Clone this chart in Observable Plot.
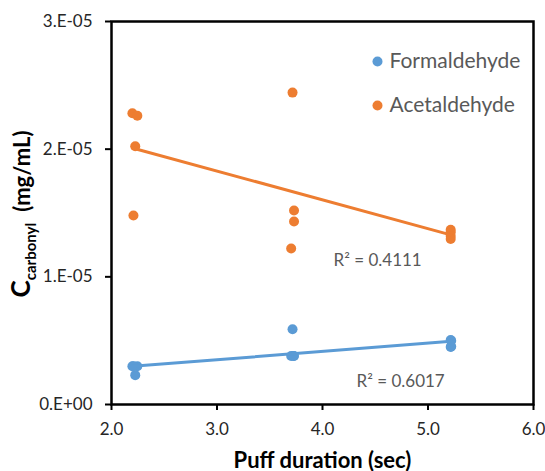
<!DOCTYPE html>
<html><head><meta charset="utf-8">
<script src="https://cdn.jsdelivr.net/npm/d3@7"></script>
<script src="https://cdn.jsdelivr.net/npm/@observablehq/plot@0.6"></script>
<style>
body{margin:0;background:#fff}
#chart{width:545px;height:471px}
</style>
</head><body><div id="chart"></div>
<script>
// Series names and colours
const series = ["Formaldehyde", "Acetaldehyde"];
const colors = ["#5B9BD5", "#ED7D31"];

// Formaldehyde: puff duration (sec) and concentration (mg/mL)
const formX = [2.198, 2.245, 2.225, 2.208, 3.716, 3.703, 3.73, 3.725, 5.215, 5.22, 5.215, 5.22];
const formY = [3.0e-6, 3.0e-6, 2.3e-6, 3.0e-6, 5.9e-6, 3.8e-6, 3.8e-6, 3.8e-6, 5.05e-6, 5.0e-6, 4.5e-6, 4.55e-6];

// Acetaldehyde
const acetX = [2.198, 2.245, 2.225, 2.208, 3.716, 3.73, 3.73, 3.703, 5.215, 5.215, 5.215, 5.215];
const acetY = [2.281e-5, 2.262e-5, 2.023e-5, 1.48e-5, 2.443e-5, 1.519e-5, 1.433e-5, 1.222e-5, 1.368e-5, 1.35e-5, 1.32e-5, 1.297e-5];

// Axis ticks and labels
const xTicks = [2, 3, 4, 5, 6];
const xTickLabels = ["2.0", "3.0", "4.0", "5.0", "6.0"];
const yTicks = [0, 1e-5, 2e-5, 3e-5];
const yTickLabels = ["0.E+00", "1.E-05", "2.E-05", "3.E-05"];

const xTitle = "Puff duration (sec)";
const r2Labels = ["R² = 0.6017", "R² = 0.4111"];

const data = [
  ...formX.map((x, i) => ({x, y: formY[i], s: series[0]})),
  ...acetX.map((x, i) => ({x, y: acetY[i], s: series[1]}))
];

const font = "Lato, 'Open Sans', sans-serif";
const textGray = "#595959";
const tickGray = "#262626";

const plot = Plot.plot({
  width: 545, height: 471,
  marginLeft: 111, marginRight: 12, marginTop: 21, marginBottom: 67,
  style: {fontFamily: font, background: "white", overflow: "visible"},
  x: {domain: [2, 6]},
  y: {domain: [0, 3e-5]},
  color: {domain: series, range: colors},
  marks: [
    Plot.dot(data, {x: "x", y: "y", fill: "s", r: 5}),
    Plot.linearRegressionY(data, {x: "x", y: "y", stroke: "s", ci: 0, strokeWidth: 3}),
    Plot.axisX({ticks: xTicks, tickFormat: () => "", tickSize: 6, stroke: "#000", strokeWidth: 2, label: null}),
    Plot.axisY({ticks: yTicks, tickFormat: () => "", tickSize: 6, stroke: "#000", strokeWidth: 2, label: null}),
    // tick labels
    Plot.text(xTicks, {x: d => d, text: (d, i) => xTickLabels[i], frameAnchor: "bottom", dy: 25, lineAnchor: "middle", fontSize: 17, fill: tickGray}),
    Plot.text(yTicks, {y: d => d, text: (d, i) => yTickLabels[i], frameAnchor: "left", dx: -19, textAnchor: "end", lineAnchor: "middle", fontSize: 17, fill: tickGray}),
    Plot.frame({stroke: "#000", strokeWidth: 2.5}),
    // legend
    ...series.flatMap((s, i) => [
      Plot.dot([s], {frameAnchor: "top-right", dx: -156, dy: 40 + 44 * i, fill: colors[i], r: 5}),
      Plot.text([s], {text: d => d, frameAnchor: "top-right", dx: -144, dy: 40 + 44 * i, textAnchor: "start", lineAnchor: "middle", fontSize: 21, fill: textGray})
    ]),
    // R² annotations
    Plot.text([r2Labels[1]], {text: d => d, frameAnchor: "top-left", dx: 222, dy: 239, textAnchor: "start", lineAnchor: "middle", fontSize: 17, fill: textGray}),
    Plot.text([r2Labels[0]], {text: d => d, frameAnchor: "top-left", dx: 245, dy: 360, textAnchor: "start", lineAnchor: "middle", fontSize: 17, fill: textGray}),
    // x title
    Plot.text([xTitle], {text: d => d, frameAnchor: "bottom", dy: 56, lineAnchor: "middle", fontSize: 22, fontWeight: "bold", fill: "#000"})
  ]
});

// y title with subscript
const svg = d3.select(plot);
const t = svg.append("text")
  .attr("transform", "translate(30,214) rotate(-90)")
  .attr("text-anchor", "middle")
  .attr("font-family", font)
  .attr("font-weight", "bold")
  .attr("fill", "#000");
t.append("tspan").attr("font-size", 26).text("C");
t.append("tspan").attr("font-size", 15).attr("dy", 6).text("carbonyl");
t.append("tspan").attr("font-size", 22).attr("dy", -6).text("\u2002(mg/mL)");

document.getElementById("chart").appendChild(plot);
</script>
</body></html>
